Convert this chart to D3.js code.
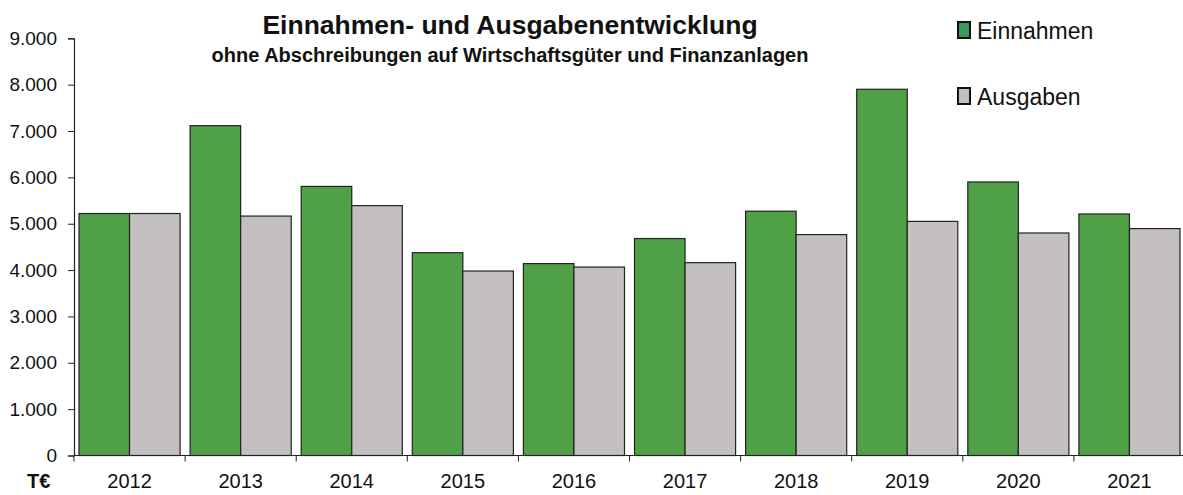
<!DOCTYPE html>
<html>
<head>
<meta charset="utf-8">
<script src="https://cdn.jsdelivr.net/npm/d3@7"></script>
<style>
  body { margin: 0; background: #fff; }
  text { font-family: "Liberation Sans", Arial, sans-serif; fill: #111; }
</style>
</head>
<body>
<div id="chart"></div>
<script>
// chart data
const years = ['2012', '2013', '2014', '2015', '2016', '2017', '2018', '2019', '2020', '2021'];
const einnahmen = [5220, 7115, 5805, 4375, 4140, 4680, 5270, 7900, 5900, 5210];
const ausgaben = [5220, 5165, 5390, 3980, 4065, 4160, 4765, 5050, 4800, 4895];
const seriesNames = ['Einnahmen', 'Ausgaben'];
const yTicks = [0, 1000, 2000, 3000, 4000, 5000, 6000, 7000, 8000, 9000];

const colors = { Einnahmen: '#4fa047', Ausgaben: '#c4c0bf' };

const W = 1183, H = 495;
const svg = d3.select('#chart').append('svg')
  .attr('width', W)
  .attr('height', H);

const x = d3.scaleBand()
  .domain(years)
  .range([74, 1185])
  .paddingInner(0.09)
  .paddingOuter(0.045);

const xs = d3.scaleBand()
  .domain(seriesNames)
  .range([0, x.bandwidth()]);

const y = d3.scaleLinear()
  .domain([0, 9000])
  .range([455.5, 38.3]);

const fmt = d => d3.format(',')(d).replace(/,/g, '.');

// bars
const rows = years.map((yr, i) => ({ year: yr, Einnahmen: einnahmen[i], Ausgaben: ausgaben[i] }));
const groups = svg.append('g').selectAll('g')
  .data(rows)
  .join('g')
  .attr('transform', d => `translate(${x(d.year)},0)`);

groups.selectAll('rect')
  .data(d => seriesNames.map(s => ({ key: s, value: d[s] })))
  .join('rect')
  .attr('x', d => xs(d.key))
  .attr('y', d => y(d.value))
  .attr('width', xs.bandwidth())
  .attr('height', d => y(0) - y(d.value))
  .attr('fill', d => colors[d.key])
  .attr('stroke', '#222')
  .attr('stroke-width', 1.2);

// y axis
const yAxis = svg.append('g')
  .attr('transform', 'translate(74,0)')
  .call(d3.axisLeft(y).tickValues(yTicks).tickFormat(fmt).tickSize(6).tickPadding(11));
yAxis.select('.domain').attr('stroke', '#222').attr('stroke-width', 1.2);
yAxis.selectAll('.tick line').attr('stroke', '#222');
yAxis.selectAll('.tick text')
  .style('font-size', '19px')
  .style('font-family', '"Liberation Sans", Arial, sans-serif')
  .attr('fill', '#111');

// x axis: ticks at category boundaries
const xAxisG = svg.append('g').attr('transform', `translate(0,${y(0)})`);
xAxisG.append('line')
  .attr('x1', 74).attr('x2', W)
  .attr('stroke', '#222').attr('stroke-width', 1.2);
const step = x.step();
xAxisG.selectAll('line.tk')
  .data(years)
  .join('line')
  .attr('class', 'tk')
  .attr('x1', d => x(d) - x.paddingInner() * step / 2)
  .attr('x2', d => x(d) - x.paddingInner() * step / 2)
  .attr('y1', 0).attr('y2', 6)
  .attr('stroke', '#222');
xAxisG.selectAll('text')
  .data(years)
  .join('text')
  .attr('x', d => x(d) + x.bandwidth() / 2)
  .attr('y', 32)
  .attr('text-anchor', 'middle')
  .style('font-size', '20px')
  .text(d => d);

svg.append('text')
  .attr('x', 27).attr('y', 488)
  .style('font-size', '20px')
  .style('font-weight', 'bold')
  .text('T€');

// titles
svg.append('text')
  .attr('x', 510).attr('y', 34)
  .attr('text-anchor', 'middle')
  .style('font-size', '26.5px')
  .style('font-weight', 'bold')
  .text('Einnahmen- und Ausgabenentwicklung');
svg.append('text')
  .attr('x', 510).attr('y', 62)
  .attr('text-anchor', 'middle')
  .style('font-size', '20px')
  .style('font-weight', 'bold')
  .text('ohne Abschreibungen auf Wirtschaftsgüter und Finanzanlagen');

// legend
const legend = svg.append('g').selectAll('g')
  .data(seriesNames)
  .join('g')
  .attr('transform', (d, i) => `translate(958,${22 + i * 66})`);
legend.append('rect')
  .attr('width', 12).attr('height', 16)
  .attr('fill', d => d === 'Einnahmen' ? '#3a9a5c' : colors[d])
  .attr('stroke', '#111').attr('stroke-width', 2);
legend.append('text')
  .attr('x', 19).attr('y', 17)
  .style('font-size', '23px')
  .text(d => d);
</script>
</body>
</html>
